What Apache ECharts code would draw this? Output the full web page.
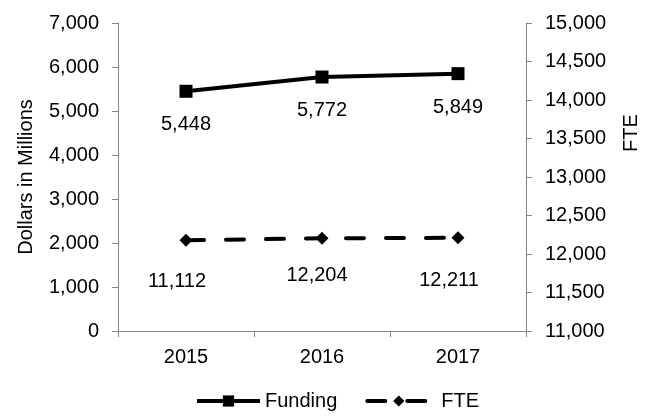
<!DOCTYPE html>
<html>
<head>
<meta charset="utf-8">
<script src="https://cdn.jsdelivr.net/npm/echarts@6/dist/echarts.min.js"></script>
<style>
  html, body { margin: 0; padding: 0; background: #fff; }
  #chart { width: 649px; height: 416px; }
</style>
</head>
<body>
<div id="chart"></div>
<script>
// data
var years = ['2015', '2016', '2017'];
var funding = [5448, 5772, 5849];          // dollars in millions (left axis)
var fte = [12178, 12204, 12211];           // plotted FTE (right axis)
var fteLabels = ['11,112', '12,204', '12,211']; // labels as printed on the chart

var font = 'Arial, "Liberation Sans", sans-serif';
var axisGray = '#868686';
var fs = 20;

function fmt(v) {
  return v.toLocaleString('en-US');
}

// small nudges so the FTE labels sit where they do in the original
var fteLabelOffsets = [[-9, 4], [-5, 0], [-9, 5]];

var chart = echarts.init(document.getElementById('chart'));
chart.setOption({
  animation: false,
  textStyle: { fontFamily: font, color: '#000' },
  grid: { left: 118, right: 123, top: 23, bottom: 85, outerBoundsMode: 'none', containLabel: false },
  legend: {
    bottom: 0,
    left: 190,
    itemWidth: 63,
    itemHeight: 14,
    itemGap: 28,
    lineStyle: { width: 4 },
    textStyle: { fontFamily: font, fontSize: fs, color: '#000' },
    data: ['Funding', { name: 'FTE', textStyle: { padding: [0, 0, 0, 6] } }]
  },
  xAxis: {
    type: 'category',
    data: years,
    axisLine: { lineStyle: { color: axisGray, width: 1 } },
    axisTick: { show: true, length: 6, inside: false, lineStyle: { color: axisGray } },
    axisLabel: { fontSize: fs, color: '#000', margin: 16, fontFamily: font }
  },
  yAxis: [{
    type: 'value',
    min: 0,
    max: 7000,
    interval: 1000,
    name: 'Dollars in Millions',
    nameLocation: 'middle',
    nameGap: 82,
    nameTextStyle: { fontSize: fs, color: '#000', fontFamily: font },
    axisLine: { show: true, lineStyle: { color: axisGray } },
    axisTick: { show: true, length: 6, lineStyle: { color: axisGray } },
    splitLine: { show: false },
    axisLabel: { fontSize: fs, color: '#000', margin: 19, fontFamily: font, formatter: fmt }
  }, {
    type: 'value',
    min: 11000,
    max: 15000,
    interval: 500,
    name: 'FTE',
    nameLocation: 'middle',
    nameGap: 95,
    nameRotate: 90,
    nameTextStyle: { fontSize: fs, color: '#000', fontFamily: font, padding: [0, 0, 0, 88] },
    axisLine: { show: true, lineStyle: { color: axisGray } },
    axisTick: { show: true, length: 6, lineStyle: { color: axisGray } },
    splitLine: { show: false },
    axisLabel: { fontSize: fs, color: '#000', margin: 19, fontFamily: font, formatter: fmt }
  }],
  series: [{
    name: 'Funding',
    type: 'line',
    yAxisIndex: 0,
    data: funding,
    symbol: 'rect',
    symbolSize: 13,
    itemStyle: { color: '#000' },
    lineStyle: { color: '#000', width: 4 },
    label: {
      show: true,
      position: 'bottom',
      distance: 17,
      fontSize: fs,
      color: '#000',
      fontFamily: font,
      formatter: function (p) { return fmt(p.value); }
    }
  }, {
    name: 'FTE',
    type: 'line',
    yAxisIndex: 1,
    data: fte.map(function (v, i) {
      return { value: v, label: { offset: fteLabelOffsets[i] } };
    }),
    symbol: 'diamond',
    symbolSize: 13,
    itemStyle: { color: '#000' },
    lineStyle: { color: '#000', width: 4, type: [18, 22], cap: 'round' },
    label: {
      show: true,
      position: 'bottom',
      distance: 21,
      fontSize: fs,
      color: '#000',
      fontFamily: font,
      formatter: function (p) { return fteLabels[p.dataIndex]; }
    }
  }]
});
</script>
</body>
</html>
